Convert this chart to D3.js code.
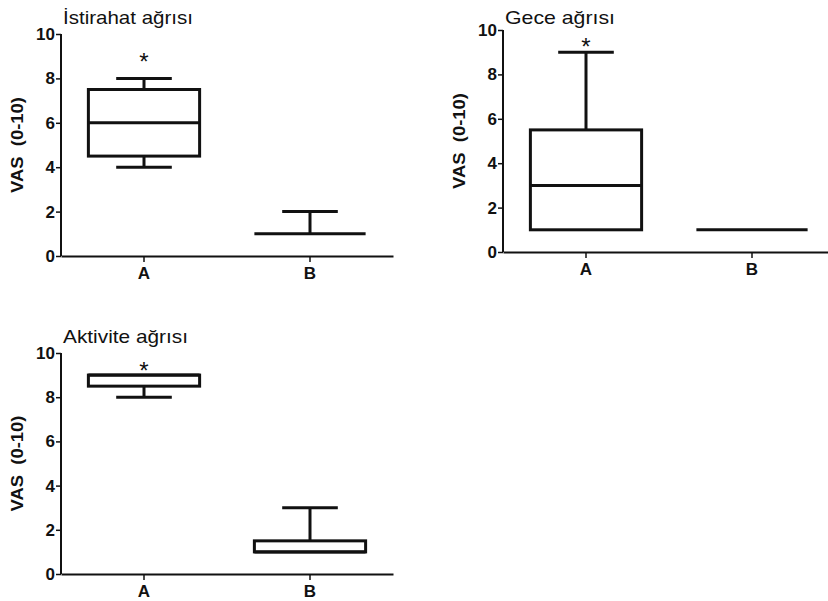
<!DOCTYPE html>
<html>
<head>
<meta charset="utf-8">
<script src="https://cdn.jsdelivr.net/npm/d3@7"></script>
<style>
    body { margin: 0; background: #fff; }
    svg { display: block; }
    text { font-family: "Liberation Sans", Arial, sans-serif; fill: #111; }
</style>
</head>
<body>
<div id="chart"></div>
<script>
// panel titles and groups
const titles = ["İstirahat ağrısı", "Gece ağrısı", "Aktivite ağrısı"];
const groups = ["A", "B"];
const yTicks = [0, 2, 4, 6, 8, 10];

// box stats per panel: [min, q1, median, q3, max] for A and B
const restA = [4, 4.5, 6, 7.5, 8];
const restB = [1, 1, 1, 1, 2];
const nightA = [1, 1, 3, 5.5, 9];
const nightB = [1, 1, 1, 1, 1];
const activityA = [8, 8.5, 9, 9, 9];
const activityB = [1, 1, 1, 1.5, 3];

// asterisk height (value units) over group A
const starValues = [9, 9.5, 9.45];

const panelData = [
    [restA, restB],
    [nightA, nightB],
    [activityA, activityB],
];

const INK = "#111";
const FONT = "'Liberation Sans', Arial, sans-serif";

const svg = d3.select("#chart")
    .append("svg")
    .attr("width", 828)
    .attr("height", 601);

// layout of each panel (axis origin and extent)
const layout = [
    { left: 61, top: 34, bottom: 256, titleY: 24, titleW: 130 },
    { left: 503, top: 30, bottom: 252, titleY: 24, titleW: 110 },
    { left: 61, top: 353, bottom: 574, titleY: 343, titleW: 125 },
];
const axisWidth = 332;

layout.forEach((p, k) => {
    const g = svg.append("g");

    const y = d3.scaleLinear().domain([0, 10]).range([p.bottom, p.top]);
    const x = d3.scaleBand().domain(groups).range([p.left, p.left + axisWidth]);
    const boxW = x.bandwidth() * 0.67;

    // y axis
    const yAxis = g.append("g")
        .attr("transform", `translate(${p.left},0)`)
        .call(d3.axisLeft(y).tickValues(yTicks).tickSize(5).tickPadding(1).tickSizeOuter(0));
    yAxis.select(".domain").attr("stroke", INK).attr("stroke-width", 2)
        .attr("d", `M0,${p.bottom}V${p.top}`);
    yAxis.selectAll(".tick line").attr("stroke", INK).attr("stroke-width", 1.5);
    yAxis.selectAll(".tick text")
        .attr("font-size", 17).attr("font-weight", "bold")
        .style("font-family", FONT)
        .attr("fill", INK);

    // x axis
    const xAxis = g.append("g")
        .attr("transform", `translate(0,${p.bottom})`)
        .call(d3.axisBottom(x).tickSize(6).tickPadding(5).tickSizeOuter(0));
    xAxis.select(".domain").attr("stroke", INK).attr("stroke-width", 2);
    xAxis.selectAll(".tick line").attr("stroke", INK).attr("stroke-width", 1.5);
    xAxis.selectAll(".tick text")
        .attr("font-size", 17).attr("font-weight", "bold")
        .style("font-family", FONT)
        .attr("fill", INK);

    // y label
    g.append("text")
        .attr("transform", `translate(${p.left - 38},${(p.top + p.bottom) / 2}) rotate(-90)`)
        .attr("text-anchor", "middle")
        .attr("font-size", 16)
        .attr("font-weight", "bold")
        .attr("textLength", 96)
        .attr("lengthAdjust", "spacingAndGlyphs")
        .style("white-space", "pre")
        .text("VAS  (0-10)");

    // title
    g.append("text")
        .attr("x", p.left + 2)
        .attr("y", p.titleY)
        .attr("font-size", 19)
        .attr("textLength", p.titleW)
        .attr("lengthAdjust", "spacingAndGlyphs")
        .text(titles[k]);

    // boxes
    panelData[k].forEach((s, i) => {
        const cx = x(groups[i]) + x.bandwidth() / 2;
        const [mn, q1, md, q3, mx] = s;
        const bg = g.append("g")
            .attr("stroke", INK)
            .attr("stroke-width", 3)
            .attr("fill", "none");

        // whiskers
        if (mx > q3) {
            bg.append("line").attr("x1", cx).attr("x2", cx).attr("y1", y(q3)).attr("y2", y(mx));
            bg.append("line").attr("x1", cx - boxW / 4).attr("x2", cx + boxW / 4).attr("y1", y(mx)).attr("y2", y(mx));
        }
        if (mn < q1) {
            bg.append("line").attr("x1", cx).attr("x2", cx).attr("y1", y(q1)).attr("y2", y(mn));
            bg.append("line").attr("x1", cx - boxW / 4).attr("x2", cx + boxW / 4).attr("y1", y(mn)).attr("y2", y(mn));
        }

        if (q3 > q1) {
            bg.append("rect")
                .attr("x", cx - boxW / 2)
                .attr("y", y(q3))
                .attr("width", boxW)
                .attr("height", y(q1) - y(q3));
        }
        bg.append("line")
            .attr("x1", cx - boxW / 2).attr("x2", cx + boxW / 2)
            .attr("y1", y(md)).attr("y2", y(md));
    });

    // significance asterisk over A
    g.append("text")
        .attr("x", x("A") + x.bandwidth() / 2)
        .attr("y", y(starValues[k]) + 14)
        .attr("text-anchor", "middle")
        .attr("font-size", 24)
        .attr("fill", "#444")
        .text("*");
});
</script>
</body>
</html>
